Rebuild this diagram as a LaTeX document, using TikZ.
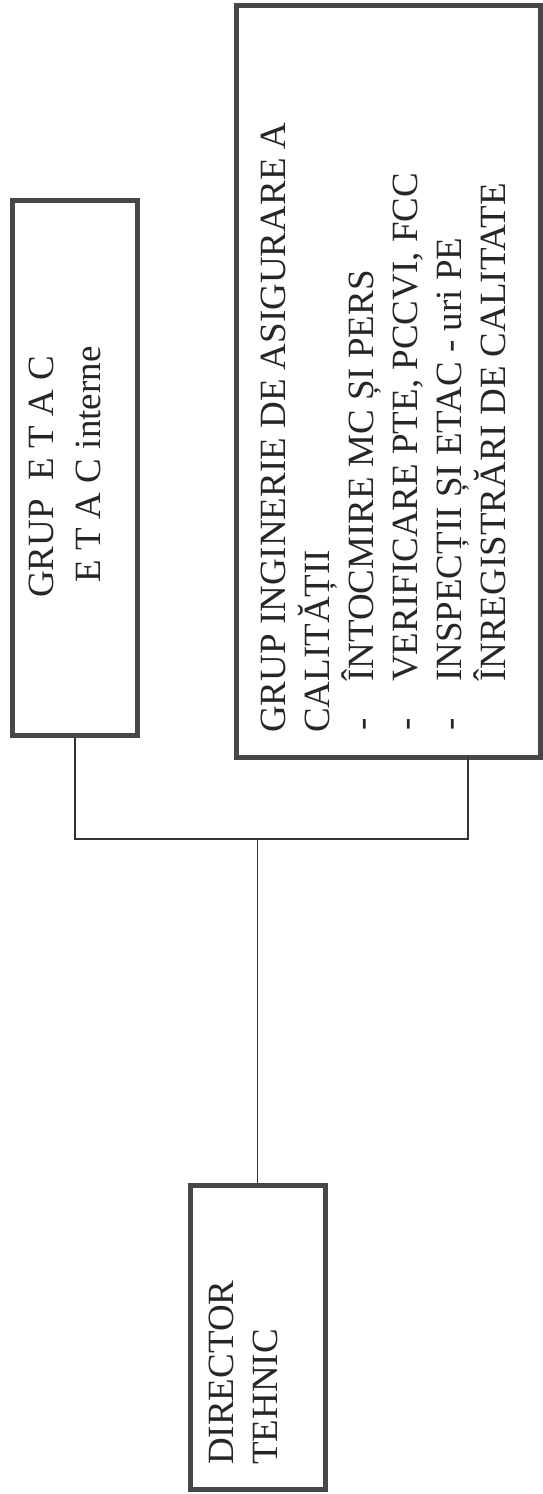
\documentclass[tikz,border=0pt]{standalone}
\usepackage{fontspec}
\setmainfont{Liberation Serif}
\begin{document}
\begin{tikzpicture}[x=1pt,y=-1pt,
  orgbox/.style={draw=black!72, line width=5pt, fill=none, inner sep=0pt, rectangle},
  conn/.style={draw=black!80, line width=1.5pt},
  lbl/.style={rotate=90, anchor=base west, inner sep=0pt, text=black!85,
    font=\fontsize{37}{44}\selectfont}]
\useasboundingbox (0,0) rectangle (543,1494);
% boxes
\node[orgbox, minimum width=125pt, minimum height=535pt] (etac) at (75,467.5) {};
\node[orgbox, minimum width=304pt, minimum height=752pt] (qbox) at (388,381) {};
\node[orgbox, minimum width=135pt, minimum height=304pt] (dir) at (257.5,1337) {};
% texts
\node[lbl] (e1) at (53,598) {GRUP\ \ E T A C};
\node[lbl] (e2) at (100,583) {E T A C interne};
\node[lbl] (q1) at (285,733) {GRUP INGINERIE DE ASIGURARE A};
\node[lbl] (q2) at (329,733) {CALITĂȚII};
\node[lbl] (b1) at (373,731) {-};
\node[lbl] (q3) at (373,682) {ÎNTOCMIRE MC ȘI PERS};
\node[lbl] (b2) at (417,731) {-};
\node[lbl] (q4) at (417,682) {VERIFICARE PTE, PCCVI, FCC};
\node[lbl] (b3) at (461,731) {-};
\node[lbl] (q5) at (461,682) {INSPECȚII ȘI ETAC - uri PE};
\node[lbl] (q6) at (505,682) {ÎNREGISTRĂRI DE CALITATE};
\node[lbl] (d1) at (233,1465) {DIRECTOR};
\node[lbl] (d2) at (277,1465) {TEHNIC};
% connectors
\coordinate (busL) at (75,839);
\coordinate (busR) at (468,839);
\coordinate (qtap) at (468,757);
\draw[conn] (etac.south) -- (busL) -- (busR) -- (qtap);
\draw[conn] (dir.north) -- (dir.north |- busL);
\end{tikzpicture}
\end{document}
